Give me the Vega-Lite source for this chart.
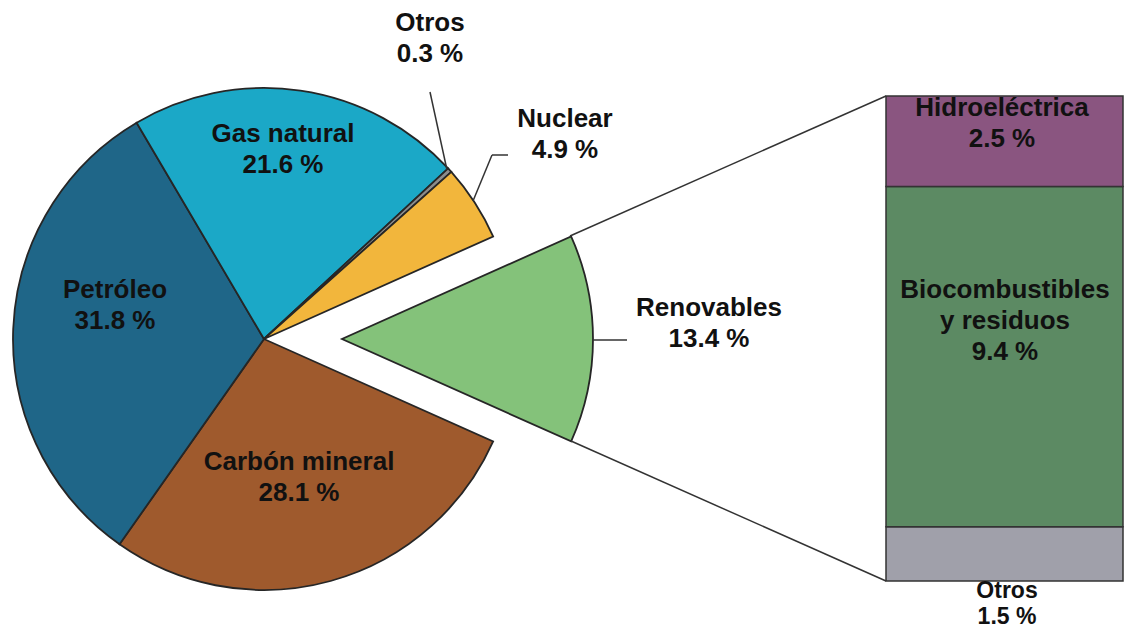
{
  "$schema": "https://vega.github.io/schema/vega-lite/v6.json",
  "width": 1124,
  "height": 631,
  "autosize": "none",
  "padding": 0,
  "background": "white",
  "config": {
    "view": {"stroke": null},
    "text": {"font": "Liberation Sans", "fontWeight": "bold", "fontSize": 26, "lineHeight": 31, "lineBreak": "\n", "baseline": "middle", "align": "center", "color": "#111111"},
    "rule": {"color": "#333333", "strokeWidth": 1.5}
  },
  "datasets": {
    "mix": [
      {"name": "Renovables", "value": 13.4, "order": 1},
      {"name": "Carbón mineral", "value": 28.1, "order": 2},
      {"name": "Petróleo", "value": 31.8, "order": 3},
      {"name": "Gas natural", "value": 21.6, "order": 4},
      {"name": "Otros", "value": 0.3, "order": 5},
      {"name": "Nuclear", "value": 4.9, "order": 6}
    ],
    "renov": [
      {"name": "Otros", "value": 1.5, "order": 1},
      {"name": "Biocombustibles\ny residuos", "value": 9.4, "order": 2},
      {"name": "Hidroeléctrica", "value": 2.5, "order": 3}
    ],
    "one": [{}]
  },
  "resolve": {"scale": {"y": "independent", "color": "independent"}},
  "layer": [
    {
      "data": {"name": "mix"},
      "transform": [
        {"stack": "value", "groupby": [], "sort": [{"field": "order", "order": "ascending"}], "as": ["v0", "v1"]},
        {"filter": "datum.name !== 'Renovables'"}
      ],
      "mark": {"type": "arc", "radius": 251, "stroke": "#262626", "strokeWidth": 1.8},
      "encoding": {
        "x": {"datum": 264, "type": "quantitative", "scale": {"domain": [0, 1124], "nice": false}, "axis": null},
        "y": {"datum": 339, "type": "quantitative", "scale": {"domain": [0, 631], "nice": false, "reverse": true}, "axis": null},
        "theta": {"field": "v0", "type": "quantitative", "scale": {"domain": [0, 100.1], "range": [1.15, 7.4332]}},
        "theta2": {"field": "v1"},
        "color": {"field": "name", "type": "nominal", "legend": null,
          "scale": {"domain": ["Renovables", "Carbón mineral", "Petróleo", "Gas natural", "Otros", "Nuclear"],
                    "range": ["#84c27a", "#9f5a2d", "#1f6688", "#1ba8c7", "#8c8c8c", "#f2b63c"]}}
      }
    },
    {
      "data": {"name": "mix"},
      "transform": [
        {"stack": "value", "groupby": [], "sort": [{"field": "order", "order": "ascending"}], "as": ["v0", "v1"]},
        {"filter": "datum.name === 'Renovables'"}
      ],
      "mark": {"type": "arc", "radius": 251, "stroke": "#262626", "strokeWidth": 1.8},
      "encoding": {
        "x": {"datum": 342, "type": "quantitative", "scale": {"domain": [0, 1124], "nice": false}, "axis": null},
        "y": {"datum": 339, "type": "quantitative", "scale": {"domain": [0, 631], "nice": false, "reverse": true}, "axis": null},
        "theta": {"field": "v0", "type": "quantitative", "scale": {"domain": [0, 100.1], "range": [1.15, 7.4332]}},
        "theta2": {"field": "v1"},
        "color": {"field": "name", "type": "nominal", "legend": null,
          "scale": {"domain": ["Renovables", "Carbón mineral", "Petróleo", "Gas natural", "Otros", "Nuclear"],
                    "range": ["#84c27a", "#9f5a2d", "#1f6688", "#1ba8c7", "#8c8c8c", "#f2b63c"]}}
      }
    },
    {
      "data": {"name": "renov"},
      "transform": [
        {"stack": "value", "groupby": [], "sort": [{"field": "order", "order": "ascending"}], "as": ["b0", "b1"]}
      ],
      "mark": {"type": "bar", "stroke": "#333333", "strokeWidth": 1.5},
      "encoding": {
        "x": {"datum": 886, "type": "quantitative", "scale": {"domain": [0, 1124], "nice": false}, "axis": null},
        "x2": {"datum": 1123},
        "y": {"field": "b0", "type": "quantitative", "scale": {"domain": [-1.3815, 16.0525], "nice": false, "zero": false}, "axis": null},
        "y2": {"field": "b1"},
        "color": {"field": "name", "type": "nominal", "legend": null,
          "scale": {"domain": ["Otros", "Biocombustibles\ny residuos", "Hidroeléctrica"],
                    "range": ["#a0a0aa", "#5c8a63", "#8a5580"]}}
      }
    },
    {
      "data": {"name": "one"},
      "mark": "rule",
      "encoding": {
        "x": {"datum": 570, "type": "quantitative", "scale": {"domain": [0, 1124], "nice": false}, "axis": null},
        "y": {"datum": 236, "type": "quantitative", "scale": {"domain": [0, 631], "nice": false, "reverse": true}, "axis": null},
        "x2": {"datum": 886}, "y2": {"datum": 96}
      }
    },
    {
      "data": {"name": "one"},
      "mark": "rule",
      "encoding": {
        "x": {"datum": 571, "type": "quantitative", "scale": {"domain": [0, 1124], "nice": false}, "axis": null},
        "y": {"datum": 441, "type": "quantitative", "scale": {"domain": [0, 631], "nice": false, "reverse": true}, "axis": null},
        "x2": {"datum": 886}, "y2": {"datum": 581}
      }
    },
    {
      "data": {"name": "one"},
      "mark": "rule",
      "encoding": {
        "x": {"datum": 593, "type": "quantitative", "scale": {"domain": [0, 1124], "nice": false}, "axis": null},
        "y": {"datum": 340, "type": "quantitative", "scale": {"domain": [0, 631], "nice": false, "reverse": true}, "axis": null},
        "x2": {"datum": 627}, "y2": {"datum": 340}
      }
    },
    {
      "data": {"name": "one"},
      "mark": "rule",
      "encoding": {
        "x": {"datum": 447, "type": "quantitative", "scale": {"domain": [0, 1124], "nice": false}, "axis": null},
        "y": {"datum": 170, "type": "quantitative", "scale": {"domain": [0, 631], "nice": false, "reverse": true}, "axis": null},
        "x2": {"datum": 430}, "y2": {"datum": 92}
      }
    },
    {
      "data": {"name": "one"},
      "mark": "rule",
      "encoding": {
        "x": {"datum": 473, "type": "quantitative", "scale": {"domain": [0, 1124], "nice": false}, "axis": null},
        "y": {"datum": 201, "type": "quantitative", "scale": {"domain": [0, 631], "nice": false, "reverse": true}, "axis": null},
        "x2": {"datum": 492}, "y2": {"datum": 155}
      }
    },
    {
      "data": {"name": "one"},
      "mark": "rule",
      "encoding": {
        "x": {"datum": 492, "type": "quantitative", "scale": {"domain": [0, 1124], "nice": false}, "axis": null},
        "y": {"datum": 155, "type": "quantitative", "scale": {"domain": [0, 631], "nice": false, "reverse": true}, "axis": null},
        "x2": {"datum": 508}, "y2": {"datum": 155}
      }
    },
    {
      "data": {"name": "mix"},
      "transform": [{"filter": "datum.name === 'Otros'"}, {"calculate": "datum.name + '\\n' + format(datum.value, '.1f') + ' %'", "as": "label"}],
      "mark": "text",
      "encoding": {
        "x": {"datum": 430, "type": "quantitative", "scale": {"domain": [0, 1124], "nice": false}, "axis": null},
        "y": {"datum": 23, "type": "quantitative", "scale": {"domain": [0, 631], "nice": false, "reverse": true}, "axis": null},
        "text": {"field": "label"}
      }
    },
    {
      "data": {"name": "mix"},
      "transform": [{"filter": "datum.name === 'Nuclear'"}, {"calculate": "datum.name + '\\n' + format(datum.value, '.1f') + ' %'", "as": "label"}],
      "mark": "text",
      "encoding": {
        "x": {"datum": 565, "type": "quantitative", "scale": {"domain": [0, 1124], "nice": false}, "axis": null},
        "y": {"datum": 119, "type": "quantitative", "scale": {"domain": [0, 631], "nice": false, "reverse": true}, "axis": null},
        "text": {"field": "label"}
      }
    },
    {
      "data": {"name": "mix"},
      "transform": [{"filter": "datum.name === 'Gas natural'"}, {"calculate": "datum.name + '\\n' + format(datum.value, '.1f') + ' %'", "as": "label"}],
      "mark": "text",
      "encoding": {
        "x": {"datum": 283, "type": "quantitative", "scale": {"domain": [0, 1124], "nice": false}, "axis": null},
        "y": {"datum": 134, "type": "quantitative", "scale": {"domain": [0, 631], "nice": false, "reverse": true}, "axis": null},
        "text": {"field": "label"}
      }
    },
    {
      "data": {"name": "mix"},
      "transform": [{"filter": "datum.name === 'Petróleo'"}, {"calculate": "datum.name + '\\n' + format(datum.value, '.1f') + ' %'", "as": "label"}],
      "mark": "text",
      "encoding": {
        "x": {"datum": 115, "type": "quantitative", "scale": {"domain": [0, 1124], "nice": false}, "axis": null},
        "y": {"datum": 290, "type": "quantitative", "scale": {"domain": [0, 631], "nice": false, "reverse": true}, "axis": null},
        "text": {"field": "label"}
      }
    },
    {
      "data": {"name": "mix"},
      "transform": [{"filter": "datum.name === 'Carbón mineral'"}, {"calculate": "datum.name + '\\n' + format(datum.value, '.1f') + ' %'", "as": "label"}],
      "mark": "text",
      "encoding": {
        "x": {"datum": 299, "type": "quantitative", "scale": {"domain": [0, 1124], "nice": false}, "axis": null},
        "y": {"datum": 462, "type": "quantitative", "scale": {"domain": [0, 631], "nice": false, "reverse": true}, "axis": null},
        "text": {"field": "label"}
      }
    },
    {
      "data": {"name": "mix"},
      "transform": [{"filter": "datum.name === 'Renovables'"}, {"calculate": "datum.name + '\\n' + format(datum.value, '.1f') + ' %'", "as": "label"}],
      "mark": "text",
      "encoding": {
        "x": {"datum": 709, "type": "quantitative", "scale": {"domain": [0, 1124], "nice": false}, "axis": null},
        "y": {"datum": 308, "type": "quantitative", "scale": {"domain": [0, 631], "nice": false, "reverse": true}, "axis": null},
        "text": {"field": "label"}
      }
    },
    {
      "data": {"name": "renov"},
      "transform": [{"filter": "datum.name === 'Hidroeléctrica'"}, {"calculate": "datum.name + '\\n' + format(datum.value, '.1f') + ' %'", "as": "label"}],
      "mark": "text",
      "encoding": {
        "x": {"datum": 1002, "type": "quantitative", "scale": {"domain": [0, 1124], "nice": false}, "axis": null},
        "y": {"datum": 108, "type": "quantitative", "scale": {"domain": [0, 631], "nice": false, "reverse": true}, "axis": null},
        "text": {"field": "label"}
      }
    },
    {
      "data": {"name": "renov"},
      "transform": [{"filter": "indexof(datum.name, 'Biocombustibles') === 0"}, {"calculate": "datum.name + '\\n' + format(datum.value, '.1f') + ' %'", "as": "label"}],
      "mark": "text",
      "encoding": {
        "x": {"datum": 1005, "type": "quantitative", "scale": {"domain": [0, 1124], "nice": false}, "axis": null},
        "y": {"datum": 290, "type": "quantitative", "scale": {"domain": [0, 631], "nice": false, "reverse": true}, "axis": null},
        "text": {"field": "label"}
      }
    },
    {
      "data": {"name": "renov"},
      "transform": [{"filter": "datum.name === 'Otros'"}, {"calculate": "datum.name + '\\n' + format(datum.value, '.1f') + ' %'", "as": "label"}],
      "mark": {"type": "text", "fontSize": 23, "lineHeight": 26},
      "encoding": {
        "x": {"datum": 1007, "type": "quantitative", "scale": {"domain": [0, 1124], "nice": false}, "axis": null},
        "y": {"datum": 591, "type": "quantitative", "scale": {"domain": [0, 631], "nice": false, "reverse": true}, "axis": null},
        "text": {"field": "label"}
      }
    }
  ]
}
